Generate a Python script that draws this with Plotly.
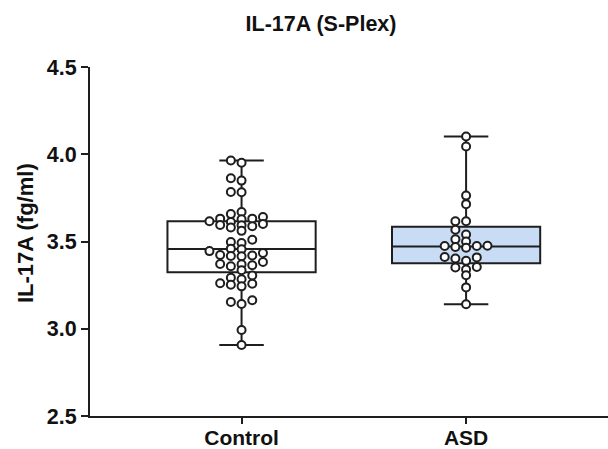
import plotly.graph_objects as go

# ---- data ----
categories = ["Control", "ASD"]

control_values = [
    3.964, 3.951, 3.849, 3.862, 3.784, 3.782, 3.657, 3.669,
    3.612, 3.616, 3.627, 3.640, 3.631, 3.631,
    3.580, 3.588, 3.595, 3.601, 3.593, 3.561,
    3.497, 3.510, 3.491, 3.445, 3.455, 3.459,
    3.420, 3.415, 3.423, 3.417, 3.434, 3.383,
    3.364, 3.369, 3.358, 3.335, 3.371,
    3.305, 3.284, 3.292, 3.261, 3.243, 3.258, 3.252,
    3.142, 3.153, 3.163, 2.993, 2.907,
]

asd_values = [
    4.102, 4.044, 3.763, 3.714, 3.616, 3.616, 3.568, 3.540,
    3.513, 3.500, 3.474, 3.468, 3.474, 3.476, 3.464,
    3.403, 3.411, 3.409, 3.389, 3.351, 3.354, 3.339,
    3.307, 3.237, 3.140,
]

# box statistics
box_q1 = [3.324, 3.375]
box_median = [3.457, 3.472]
box_q3 = [3.616, 3.585]

y_tick_values = [2.5, 3.0, 3.5, 4.0, 4.5]
y_tick_labels = ["2.5", "3.0", "3.5", "4.0", "4.5"]

title_text = "IL-17A (S-Plex)"
y_title_text = "IL-17A (fg/ml)"
box_fills = ["#ffffff", "#c9dcf5"]

# ---- layout geometry ----
W, H = 608, 449
ml, mr, mt, mb = 90, 0, 66.5, 32.5
plot_w = W - ml - mr
plot_h = H - mt - mb
x_range = [-0.675, 1.632]
y_range = [2.5, 4.5]
px_per_x = plot_w / (x_range[1] - x_range[0])
px_per_y = plot_h / (y_range[1] - y_range[0])

DARK = "#1e1e1e"
FONT = "Arial, Liberation Sans, Helvetica, sans-serif"


def beeswarm(values, col_px=10.7, min_gap_px=5.6):
    """Column-based beeswarm offsets (in x data units)."""
    order = sorted(range(len(values)), key=lambda i: values[i])
    placed = {}
    offsets = [0.0] * len(values)
    for i in order:
        ypx = values[i] * px_per_y
        step = 0
        while True:
            cand = [0] if step == 0 else [-step, step]
            done = False
            for c in cand:
                col = placed.setdefault(c, [])
                if all(abs(ypx - o) >= min_gap_px for o in col):
                    col.append(ypx)
                    offsets[i] = c * col_px / px_per_x
                    done = True
                    break
            if done:
                break
            step += 1
    return offsets


fig = go.Figure()
all_series = [control_values, asd_values]
for idx, vals in enumerate(all_series):
    fig.add_trace(go.Box(
        x=[idx],
        q1=[box_q1[idx]], median=[box_median[idx]], q3=[box_q3[idx]],
        lowerfence=[min(vals)], upperfence=[max(vals)],
        width=0.66, whiskerwidth=0.3,
        fillcolor=box_fills[idx],
        line=dict(color=DARK, width=2),
        boxpoints=False, showlegend=False, hoverinfo="skip",
    ))

for idx, vals in enumerate(all_series):
    offs = beeswarm(vals)
    fig.add_trace(go.Scatter(
        x=[idx + o for o in offs], y=vals, mode="markers",
        marker=dict(symbol="circle", size=8, color="white",
                    line=dict(color=DARK, width=2)),
        showlegend=False, hoverinfo="skip",
    ))

fig.update_layout(
    width=W, height=H,
    margin=dict(l=ml, r=mr, t=mt, b=mb, pad=0, autoexpand=False),
    paper_bgcolor="white", plot_bgcolor="white",
    font=dict(family=FONT, color="#111111"),
    title=dict(text="<b>" + title_text + "</b>", x=321 / W, xanchor="center",
               y=1 - 23 / H, yanchor="middle",
               font=dict(size=21.5, family=FONT, color="#111111")),
    xaxis=dict(range=x_range, showgrid=False, zeroline=False, automargin=False,
               showline=True, linecolor=DARK, linewidth=2,
               tickmode="array", tickvals=[0, 1],
               ticktext=["<b>" + c + "</b>" for c in categories],
               ticks="outside", ticklen=6, tickwidth=2, tickcolor=DARK,
               ticklabelstandoff=-4,
               tickfont=dict(size=21, family=FONT, color="#111111")),
    yaxis=dict(range=y_range, showgrid=False, zeroline=False, automargin=False,
               showline=True, linecolor=DARK, linewidth=2,
               tickmode="array", tickvals=y_tick_values,
               ticktext=["<b>" + t + "</b>" for t in y_tick_labels],
               ticks="outside", ticklen=7, tickwidth=2, tickcolor=DARK,
               tickfont=dict(size=21.5, family=FONT, color="#111111")),
    annotations=[dict(
        text="<b>" + y_title_text + "</b>", textangle=-90,
        xref="paper", yref="paper",
        x=(25 - ml) / plot_w, y=(H - mb - 233) / plot_h,
        xanchor="center", yanchor="middle", showarrow=False,
        font=dict(size=22, family=FONT, color="#111111"),
    )],
)

fig.write_html("out.html")
